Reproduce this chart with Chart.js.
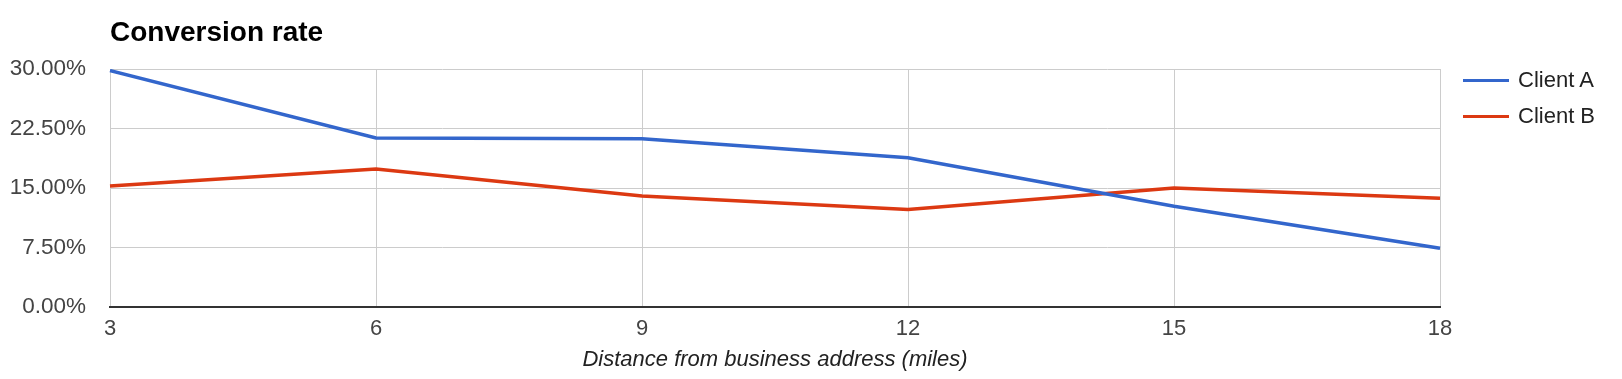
<!DOCTYPE html>
<html>
<head>
<meta charset="utf-8">
<script src="https://cdn.jsdelivr.net/npm/chart.js@4"></script>
<style>
  html, body { margin: 0; padding: 0; background: #fff; }
  #wrap { position: relative; width: 1622px; height: 379px; }
  #legend { position: absolute; left: 1463px; top: 0; font-family: "Liberation Sans", Arial, sans-serif; font-size: 22px; color: #222; }
  .item { position: absolute; left: 0; white-space: nowrap; height: 26px; line-height: 26px; }
  .swatch { position: absolute; left: 0; top: 11.5px; width: 46px; height: 3.5px; }
  .label { position: absolute; left: 55px; top: 0; }
</style>
</head>
<body>
<div id="wrap">
  <canvas id="c" width="1622" height="379"></canvas>
  <div id="legend"></div>
</div>
<script>
const titleText = "Conversion rate";
const xAxisTitle = "Distance from business address (miles)";
const distances = ["3", "6", "9", "12", "15", "18"];
const seriesNames = ["Client A", "Client B"];
const clientA = [29.8, 21.3, 21.2, 18.8, 12.7, 7.4];
const clientB = [15.25, 17.4, 14.0, 12.3, 15.0, 13.7];
const seriesColors = ["#3366cc", "#dc3912"];
const yMin = 0, yMax = 30, yStep = 7.5;

const FONT = '"Liberation Sans", Arial, sans-serif';

const chart = new Chart(document.getElementById('c'), {
  type: 'line',
  data: {
    labels: distances,
    datasets: [
      { label: seriesNames[0], data: clientA, borderColor: seriesColors[0], backgroundColor: seriesColors[0], borderWidth: 3.5, pointRadius: 0, tension: 0 },
      { label: seriesNames[1], data: clientB, borderColor: seriesColors[1], backgroundColor: seriesColors[1], borderWidth: 3.5, pointRadius: 0, tension: 0 }
    ]
  },
  options: {
    responsive: false,
    animation: false,
    layout: { padding: { left: 0, right: 182, top: 0, bottom: 0 } },
    plugins: {
      legend: { display: false },
      tooltip: { enabled: false },
      title: {
        display: true,
        text: titleText,
        align: 'start',
        fullSize: false,
        color: '#000',
        font: { family: FONT, size: 28, weight: 'bold', lineHeight: 1.2 },
        padding: { top: 16, bottom: 19.4 }
      }
    },
    scales: {
      x: {
        type: 'category',
        offset: false,
        afterFit: (s) => { s.height = 72; },
        grid: { color: '#cccccc', lineWidth: 1, drawTicks: false },
        border: { display: true, color: '#333333', width: 2 },
        ticks: { color: '#444', padding: 9, maxRotation: 0, font: { family: FONT, size: 22, lineHeight: 1.2 } },
        title: {
          display: true,
          text: xAxisTitle,
          color: '#222',
          font: { family: FONT, size: 22, style: 'italic', lineHeight: 1.2 },
          padding: { top: 0, bottom: 6 }
        }
      },
      y: {
        min: yMin, max: yMax,
        afterFit: (s) => { s.width = 110; },
        grid: { color: '#cccccc', lineWidth: 1, drawTicks: false },
        border: { display: false },
        ticks: {
          stepSize: yStep,
          color: '#444',
          padding: 24,
          font: { family: FONT, size: 22.5, lineHeight: 1.2 },
          callback: (v) => v.toFixed(2) + '%'
        }
      }
    }
  }
});

// HTML legend built from chart datasets
const legend = document.getElementById('legend');
const legendTops = [67, 103];
chart.data.datasets.forEach((ds, i) => {
  const item = document.createElement('div');
  item.className = 'item';
  item.style.top = legendTops[i] + 'px';
  const sw = document.createElement('div');
  sw.className = 'swatch';
  sw.style.background = ds.borderColor;
  const lb = document.createElement('span');
  lb.className = 'label';
  lb.textContent = ds.label;
  item.appendChild(sw);
  item.appendChild(lb);
  legend.appendChild(item);
});
</script>
</body>
</html>
